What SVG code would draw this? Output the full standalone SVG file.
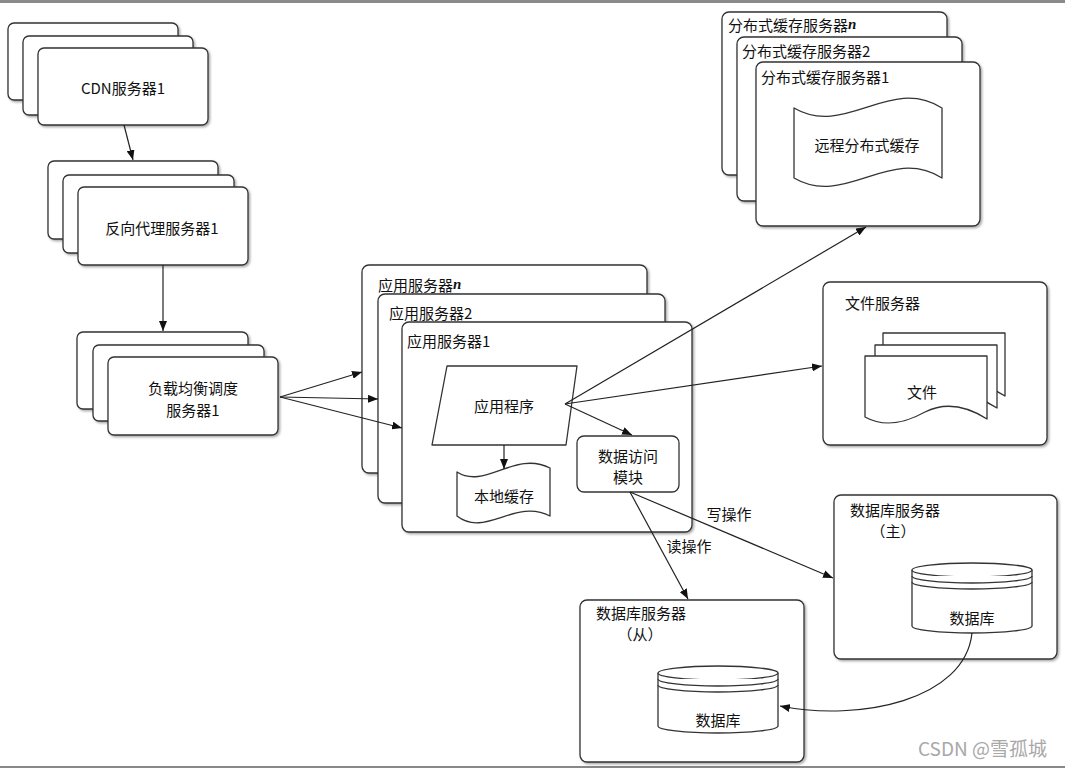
<svg xmlns="http://www.w3.org/2000/svg" width="1065" height="768" viewBox="0 0 1065 768">
<style>
.box{fill:#fff;stroke:#333;stroke-width:1.3;filter:url(#sh)}
.shape{fill:#fff;stroke:#333;stroke-width:1.3;stroke-linejoin:round}
.t{font-family:"Noto Sans CJK SC","Noto Sans",sans-serif;font-size:15px;fill:#111;dominant-baseline:central}
.c{text-anchor:middle}
.it{font-family:"Liberation Serif",serif;font-style:italic;font-weight:bold}
.edge{fill:none;stroke:#222;stroke-width:1.2;marker-end:url(#arr)}
</style>
<defs>
<filter id="sh" x="-10%" y="-10%" width="130%" height="130%">
<feDropShadow dx="1.5" dy="1.5" stdDeviation="1" flood-color="#000" flood-opacity="0.35"/>
</filter>
<marker id="arr" viewBox="0 0 10 8" refX="10" refY="4" markerWidth="10" markerHeight="8" markerUnits="userSpaceOnUse" orient="auto">
<path d="M0,0 L10,4 L0,8 z" fill="#111"/>
</marker>
</defs>
<rect width="1065" height="768" fill="#fff"/>
<rect x="0" y="0" width="1065" height="3" fill="#8a8a8a"/>
<rect x="0" y="766" width="1065" height="2" fill="#888"/>

<g id="cdn">
<rect class="box" x="8" y="23" width="170" height="77" rx="6"/>
<rect class="box" x="23" y="36" width="170" height="79" rx="6"/>
<rect class="box" x="38" y="48" width="170" height="77" rx="6"/>
<text class="t c" x="123" y="87">CDN服务器1</text>
</g>

<g id="proxy">
<rect class="box" x="48" y="161" width="170" height="78" rx="6"/>
<rect class="box" x="63" y="175" width="171" height="78" rx="6"/>
<rect class="box" x="78" y="187" width="170" height="78" rx="6"/>
<text class="t c" x="162" y="227">反向代理服务器1</text>
</g>

<g id="lb">
<rect class="box" x="77" y="332" width="171" height="77" rx="6"/>
<rect class="box" x="93" y="345" width="171" height="76" rx="6"/>
<rect class="box" x="108" y="357" width="170" height="78" rx="6"/>
<text class="t c" x="193" y="387">负载均衡调度</text>
<text class="t c" x="193" y="409">服务器1</text>
</g>

<g id="app-servers">
<rect class="box" x="362" y="265" width="285" height="208" rx="7"/>
<text class="t" x="378" y="284">应用服务器<tspan class="it">n</tspan></text>
<rect class="box" x="378" y="294" width="287" height="209" rx="7"/>
<text class="t" x="389" y="312">应用服务器2</text>
<rect class="box" x="402" y="322" width="290" height="210" rx="7"/>
<text class="t" x="407" y="340">应用服务器1</text>
</g>

<g id="app-program">
<path class="shape" d="M447,366 L577,366 L566,445 L432,445 Z"/>
<text class="t c" x="504" y="405">应用程序</text>
</g>

<g id="local-cache">
<path class="shape" d="M457,472 C485,490 515,450 550,468 L550,516 C515,498 485,538 457,516 Z"/>
<text class="t c" x="504" y="495">本地缓存</text>
</g>

<g id="data-access">
<rect class="shape" x="577" y="436" width="102" height="56" rx="7"/>
<text class="t c" x="628" y="455">数据访问</text>
<text class="t c" x="628" y="476">模块</text>
</g>

<g id="dist-cache">
<rect class="box" x="722" y="12" width="225" height="163" rx="7"/>
<text class="t" x="728" y="24">分布式缓存服务器<tspan class="it">n</tspan></text>
<rect class="box" x="737" y="37" width="225" height="164" rx="7"/>
<text class="t" x="742" y="50">分布式缓存服务器2</text>
<rect class="box" x="756" y="62" width="224" height="164" rx="7"/>
<text class="t" x="761" y="76">分布式缓存服务器1</text>
<path class="shape" d="M794,108 C845,138 890,75 942,108 L942,178 C890,145 845,208 794,178 Z"/>
<text class="t c" x="867" y="144">远程分布式缓存</text>
</g>

<g id="file-server">
<rect class="box" x="823" y="282" width="224" height="163" rx="7"/>
<text class="t" x="845" y="302">文件服务器</text>
<path class="shape" transform="translate(18,-23)" d="M865,356 H987 V419 C965,405 945,402 925,412 C905,423 885,428 865,417 Z"/>
<path class="shape" transform="translate(10,-11)" d="M865,356 H987 V419 C965,405 945,402 925,412 C905,423 885,428 865,417 Z"/>
<path class="shape" d="M865,356 H987 V419 C965,405 945,402 925,412 C905,423 885,428 865,417 Z"/>
<text class="t c" x="922" y="391">文件</text>
</g>

<g id="db-master">
<rect class="box" x="834" y="495" width="223" height="164" rx="7"/>
<text class="t" x="850" y="509">数据库服务器</text>
<text class="t c" x="893" y="530">（主）</text>
<path class="shape" d="M912,570 V626 A60,7 0 0 0 1032,626 V570"/>
<ellipse class="shape" cx="972" cy="570" rx="60" ry="7"/>
<path class="shape" fill="none" d="M912,576 A60,7 0 0 0 1032,576 M912,582 A60,7 0 0 0 1032,582"/>
<text class="t c" x="972" y="617">数据库</text>
</g>

<g id="db-slave">
<rect class="box" x="580" y="600" width="224" height="162" rx="7"/>
<text class="t" x="596" y="612">数据库服务器</text>
<text class="t c" x="640" y="633">（从）</text>
<path class="shape" d="M658,673 V726 A60,7 0 0 0 778,726 V673"/>
<ellipse class="shape" cx="718" cy="673" rx="60" ry="7"/>
<path class="shape" fill="none" d="M658,679 A60,7 0 0 0 778,679 M658,685 A60,7 0 0 0 778,685"/>
<text class="t c" x="718" y="719">数据库</text>
</g>

<g id="connectors">
<path class="edge" d="M124,125 L133,160"/>
<path class="edge" d="M163,265 L163,331"/>
<path class="edge" d="M280,397 L362,372"/>
<path class="edge" d="M280,397 L378,399"/>
<path class="edge" d="M280,397 L402,428"/>
<path class="edge" d="M504,445 L504,469"/>
<path class="edge" d="M565,404 L632,435"/>
<path class="edge" d="M565,404 L866,227"/>
<path class="edge" d="M565,404 L822,366"/>
<path class="edge" d="M630,492 L688,599"/>
<path class="edge" d="M630,492 L833,578"/>
<path class="edge" d="M972,633 C965,700 860,722 780,706"/>
<text class="t c" x="729" y="513">写操作</text>
<text class="t c" x="689" y="545">读操作</text>
</g>

<text x="918" y="756" font-family="Noto Sans CJK SC, Noto Sans, sans-serif" font-size="19" fill="#a8a8a8">CSDN @雪孤城</text>
</svg>
